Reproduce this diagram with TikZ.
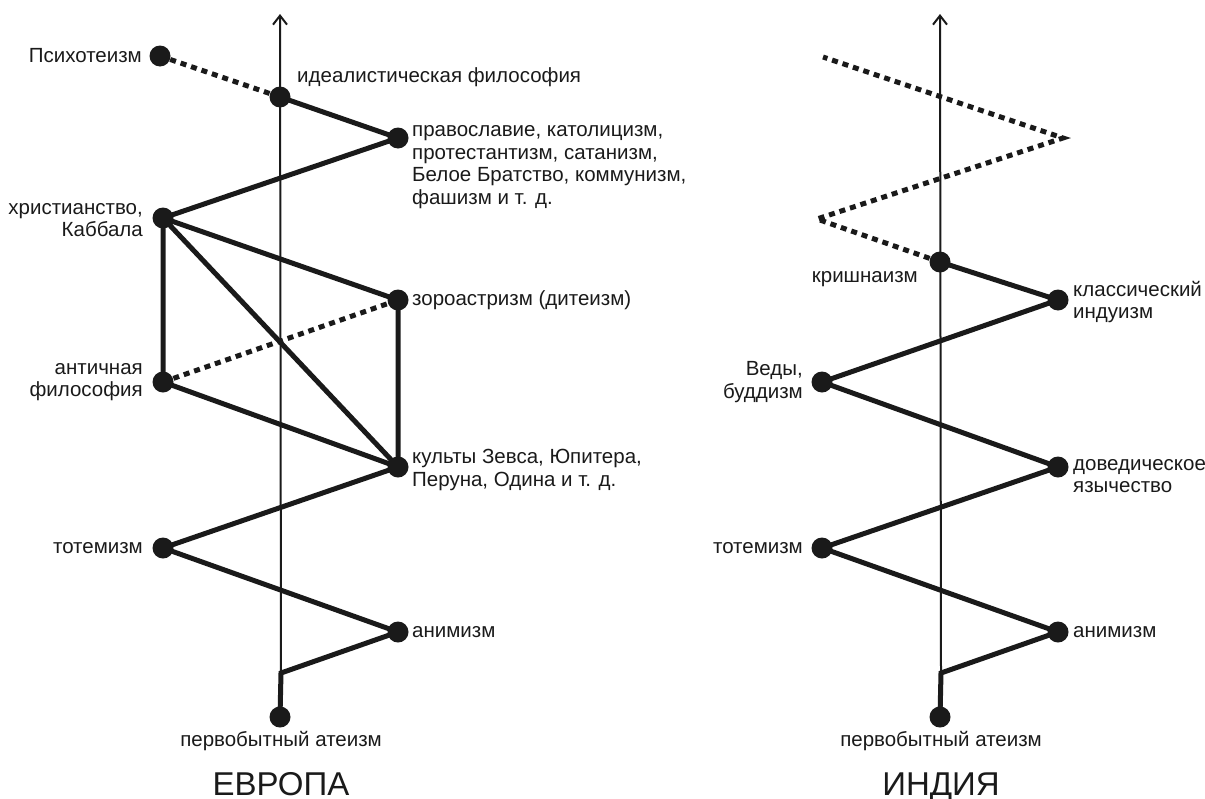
\documentclass[tikz,border=0pt]{standalone}
\usepackage{fontspec}
\setmainfont{Liberation Sans}
\usetikzlibrary{arrows.meta}
\definecolor{ink}{HTML}{1A1A1A}
\tikzset{
  dotnode/.style={circle,fill=ink,minimum size=21pt,inner sep=0pt},
  thickline/.style={line width=5pt,draw=ink,line join=miter},
  dotline/.style={line width=5pt,draw=ink,dash pattern=on 6pt off 5pt,line join=miter},
  axisline/.style={line width=2pt,draw=ink,-{Straight Barb[length=9pt,width=14pt,line width=2pt]}},
  lbl/.style={font=\fontsize{20.5}{22.5}\selectfont,text=ink,inner sep=0pt},
  lblL/.style={lbl,anchor=west,align=left},
  lblR/.style={lbl,anchor=east,align=right},
  title/.style={font=\fontsize{33}{36}\selectfont,text=ink,inner sep=0pt,anchor=base}
}
\begin{document}
\begin{tikzpicture}[x=1pt,y=-1pt]
\useasboundingbox (0,0) rectangle (1205,798);
% ---------- EUROPE ----------
\coordinate (eAth) at (280,717);
\coordinate (eCor) at (281,673);
\coordinate (eTop) at (280,14);
\coordinate (eAni) at (398,632);
\coordinate (eTot) at (163,548);
\coordinate (eKul) at (398,467);
\coordinate (eAnt) at (163,382);
\coordinate (eZor) at (398,300);
\coordinate (eChr) at (163,218);
\coordinate (ePra) at (398,138);
\coordinate (eIde) at (280,97);
\coordinate (ePsy) at (160,56);
\draw[axisline] (eCor) -- (eTop);
\draw[thickline] (eAth) -- (eCor) -- (eAni) -- (eTot) -- (eKul) -- (eAnt) -- (eChr) -- (ePra) -- (eIde);
\draw[thickline] (eKul) -- (eZor) -- (eChr) -- (eKul);
\draw[dotline] (eAnt) -- (eZor);
\draw[dotline] (eIde) -- (ePsy);
\foreach \n in {eAth,eAni,eTot,eKul,eAnt,eZor,eChr,ePra,eIde,ePsy}
  \node[dotnode] (\n D) at (\n) {};
\node[lblR] (tPsy) at (142,56) {Психотеизм};
\node[lblL] (tIde) at (297,77) {идеалистическая философия};
\node[lblL] (tPra) at (412,167) {православие, католицизм,\\протестантизм, сатанизм,\\Белое Братство, коммунизм,\\фашизм и т. д.};
\node[lblR] (tChr) at (143,220) {христианство,\\Каббала};
\node[lblL] (tZor) at (412,300) {зороастризм (дитеизм)};
\node[lblR] (tAnt) at (143,382) {античная\\философия};
\node[lblL] (tKul) at (412,470) {культы Зевса, Юпитера,\\Перуна, Одина и т. д.};
\node[lblR] (tTot) at (143,548) {тотемизм};
\node[lblL] (tAni) at (412,632) {анимизм};
\node[lbl] (tAth) at (281,741) {первобытный атеизм};
\node[title] (tEur) at (281,795) {ЕВРОПА};
% ---------- INDIA ----------
\coordinate (iAth) at (940,717);
\coordinate (iCor) at (941,673);
\coordinate (iTop) at (940,14);
\coordinate (iAni) at (1058,632);
\coordinate (iTot) at (822,548);
\coordinate (iDov) at (1058,467);
\coordinate (iVed) at (822,382);
\coordinate (iKla) at (1058,300);
\coordinate (iKri) at (940,262);
\coordinate (iP1) at (817,219);
\coordinate (iP2) at (1063,138);
\coordinate (iP3) at (823,57);
\draw[axisline] (iCor) -- (iTop);
\draw[thickline] (iAth) -- (iCor) -- (iAni) -- (iTot) -- (iDov) -- (iVed) -- (iKla) -- (iKri);
\draw[dotline] (iKri) -- (iP1) -- (iP2) -- (iP3);
\foreach \n in {iAth,iAni,iTot,iDov,iVed,iKla,iKri}
  \node[dotnode] (\n D) at (\n) {};
\node[lblR] (tKri) at (918,279) {кришнаизм};
\node[lblL] (tKla) at (1073,302) {классический\\индуизм};
\node[lblR] (tVed) at (803,382) {Веды,\\буддизм};
\node[lblL] (tDov) at (1073,476) {доведическое\\язычество};
\node[lblR] (tTot2) at (803,548) {тотемизм};
\node[lblL] (tAni2) at (1073,632) {анимизм};
\node[lbl] (tAth2) at (941,741) {первобытный атеизм};
\node[title] (tInd) at (941,795) {ИНДИЯ};
\end{tikzpicture}
\end{document}
